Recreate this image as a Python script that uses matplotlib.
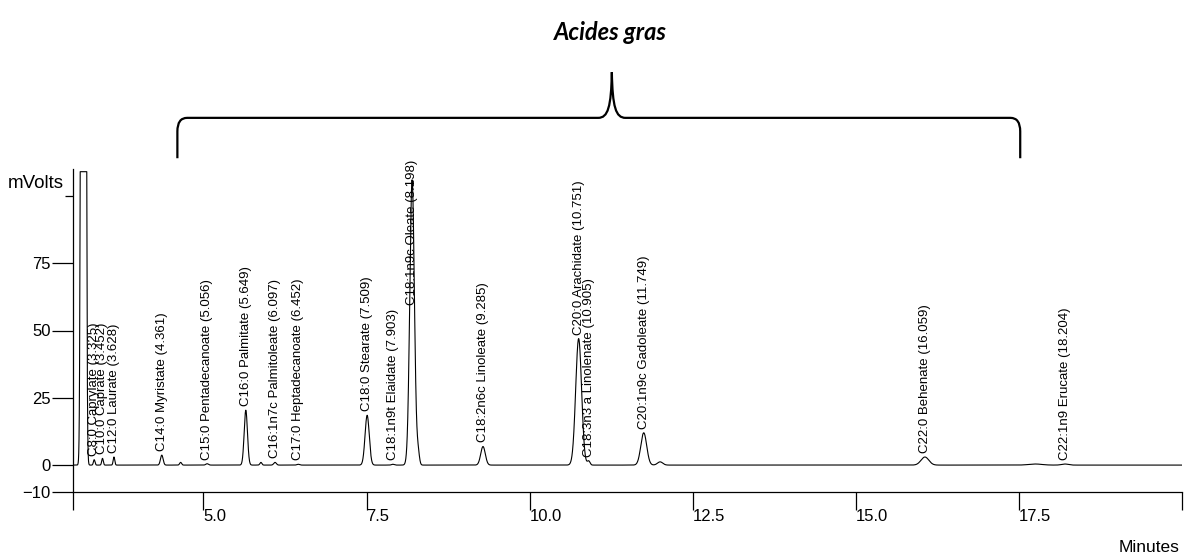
"""
GC chromatogram of fatty acid methyl esters (Acides gras)
"""

import numpy as np
import matplotlib
matplotlib.use("Agg")
import matplotlib.pyplot as plt
from matplotlib.path import Path
from matplotlib.patches import PathPatch

plt.rcParams["font.family"] = ["Liberation Sans", "DejaVu Sans"]

# peak table
peak_names = ["C8:0 Caprylate (3.325)", "C10:0 Caprate (3.452)", "C12:0 Laurate (3.628)",
              "C14:0 Myristate (4.361)", "C15:0 Pentadecanoate (5.056)",
              "C16:0 Palmitate (5.649)", "C16:1n7c Palmitoleate (6.097)",
              "C17:0 Heptadecanoate (6.452)", "C18:0 Stearate (7.509)",
              "C18:1n9t Elaidate (7.903)", "C18:1n9c Oleate (8.198)",
              "C18:2n6c Linoleate (9.285)", "C20:0 Arachidate (10.751)",
              "C18:3n3 a Linolenate (10.905)", "C20:1n9c Gadoleate (11.749)",
              "C22:0 Behenate (16.059)", "C22:1n9 Erucate (18.204)"]
peak_rt = [3.325, 3.452, 3.628, 4.361, 5.056, 5.649, 6.097, 6.452, 7.509,
           7.903, 8.198, 9.285, 10.751, 10.905, 11.749, 16.059, 18.204]
peak_height = [2.0, 2.5, 3.0, 3.7, 0.5, 20.4, 1.0, 0.3, 18.5,
               0.3, 106.0, 6.9, 47.0, 1.5, 12.0, 3.0, 0.4]
peak_sigma = [0.012, 0.012, 0.012, 0.02, 0.02, 0.025, 0.02, 0.02, 0.032,
              0.02, 0.035, 0.035, 0.045, 0.02, 0.045, 0.06, 0.05]

# unlabelled small bumps
minor_rt = [4.65, 5.88, 8.29, 12.0, 17.75]
minor_height = [1.0, 1.0, 4.5, 1.2, 0.4]
minor_sigma = [0.015, 0.015, 0.02, 0.04, 0.1]

# solvent front (off scale, detector saturated)
solvent_rt = 3.16
solvent_height = 3000.0
solvent_sigma = 0.02
saturation = 109.0

xticks = [3.0, 5.0, 7.5, 10.0, 12.5, 15.0, 17.5, 20.0]
xticklabels = ["", "5.0", "7.5", "10.0", "12.5", "15.0", "17.5", ""]
yticks = [-10, 0, 25, 50, 75]

# build trace
t = np.linspace(3.0, 20.0, 12000)
signal = np.zeros_like(t)
for rt, h, s in zip(peak_rt + minor_rt, peak_height + minor_height, peak_sigma + minor_sigma):
    signal += h * np.exp(-0.5 * ((t - rt) / s) ** 2)
signal += solvent_height * np.exp(-0.5 * ((t - solvent_rt) / solvent_sigma) ** 2)
signal = np.minimum(signal, saturation)

fig = plt.figure(figsize=(11.84, 5.59), dpi=100)
ax = fig.add_axes([73 / 1184, 1 - 492 / 559, (1182 - 73) / 1184, (492 - 169) / 559])

ax.plot(t, signal, color="black", lw=0.8)

# peak labels
for name, rt, h in zip(peak_names, peak_rt, peak_height):
    ax.text(rt, min(h, 58) + 1.5, name, rotation=90, ha="center", va="bottom",
            fontsize=9.5, color="black")

ax.set_xlim(3.0, 20.0)
ax.set_ylim(-10, 110)
ax.spines["top"].set_visible(False)
ax.spines["right"].set_visible(False)
ax.spines["left"].set_linewidth(0.9)
ax.spines["bottom"].set_linewidth(0.9)

ax.set_xticks(xticks)
ax.set_xticklabels(xticklabels)
for lbl in ax.get_xticklabels():
    lbl.set_ha("left")
ax.set_yticks(yticks)
ax.set_yticks([100], minor=True)
ax.tick_params(axis="x", length=13, width=0.9, pad=-1, labelsize=12)
ax.tick_params(axis="y", length=15, width=0.9, pad=1, labelsize=12)
ax.tick_params(axis="y", which="minor", length=6, width=0.9)

fig.text(8 / 1184, 1 - 184 / 559, "mVolts", ha="left", va="center", fontsize=13.5)
fig.text(1180 / 1184, 1 - 548 / 559, "Minutes", ha="right", va="center", fontsize=12.5)

# brace over the fatty acid region
verts = [(4.6, 114), (4.6, 124), (4.6, 129), (4.75, 129), (11.05, 129),
         (11.2, 129), (11.25, 133), (11.26, 146),
         (11.27, 133), (11.32, 129), (11.47, 129),
         (17.37, 129), (17.52, 129), (17.52, 124), (17.52, 114)]
codes = [Path.MOVETO, Path.LINETO, Path.CURVE3, Path.CURVE3, Path.LINETO,
         Path.CURVE4, Path.CURVE4, Path.CURVE4,
         Path.CURVE4, Path.CURVE4, Path.CURVE4,
         Path.LINETO, Path.CURVE3, Path.CURVE3, Path.LINETO]
ax.add_patch(PathPatch(Path(verts, codes), fill=False, lw=1.6, color="black", clip_on=False))

fig.text(610 / 1184, 1 - 33 / 559, "Acides gras", ha="center", va="center",
         fontsize=17, fontweight="bold", fontstyle="italic", family=["Lato", "DejaVu Sans"])

plt.savefig("out.png", dpi=100)
